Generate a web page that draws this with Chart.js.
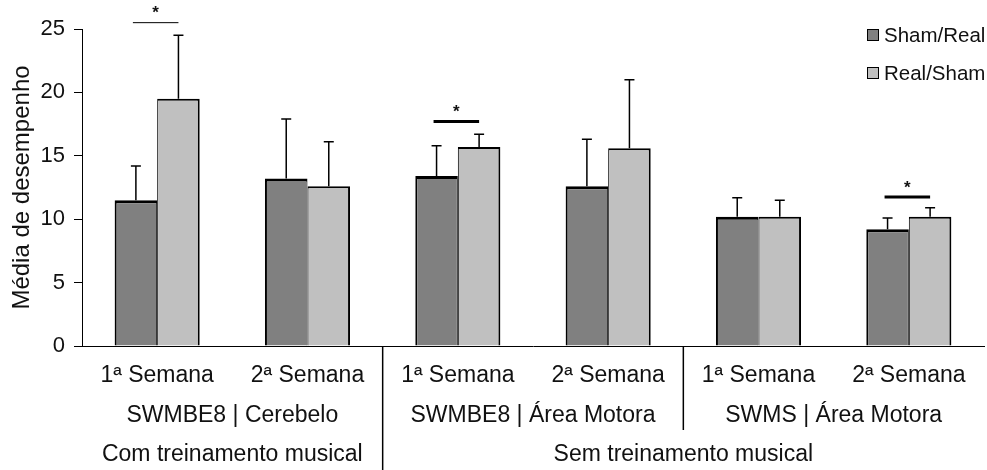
<!DOCTYPE html>
<html>
<head>
<meta charset="utf-8">
<script src="https://cdn.jsdelivr.net/npm/chart.js@4.4.1/dist/chart.umd.min.js"></script>
<style>
  html, body { margin: 0; padding: 0; background: #ffffff; }
  #wrap { width: 987px; height: 470px; position: relative; }
</style>
</head>
<body>
<div id="wrap"><canvas id="chart"></canvas></div>
<script>
// Categories (first row of the x axis) and the two grouping rows below it
const weeks = ['1ª Semana', '2ª Semana', '1ª Semana', '2ª Semana', '1ª Semana', '2ª Semana'];
const conditions = ['SWMBE8 | Cerebelo', 'SWMBE8 | Área Motora', 'SWMS | Área Motora'];
const conditionSpan = [2, 2, 2];
const trainingGroups = ['Com treinamento musical', 'Sem treinamento musical'];
const trainingSpan = [2, 4];

// Series: means and standard deviations
const seriesNames = ['Sham/Real', 'Real/Sham'];
const shamRealMean = [11.5, 13.2, 13.4, 12.6, 10.2, 9.2];
const shamRealSD   = [2.7, 4.7, 2.4, 3.7, 1.5, 0.9];
const realShamMean = [19.5, 12.6, 15.7, 15.6, 10.2, 10.2];
const realShamSD   = [5.0, 3.5, 1.0, 5.4, 1.3, 0.7];

// Y axis ticks
const yTicks = [0, 5, 10, 15, 20, 25];

// Significant differences: category index and height of the bracket line
const sigCategory = [0, 2, 5];
const sigLevel = [25.5, 17.7, 11.75];
const sigLineWidth = [1, 3, 3];

const FONT = '"Liberation Sans", Arial, Helvetica, sans-serif';
const TEXT = '#111111';
const DARK = '#808080';
const LIGHT = '#c0c0c0';

const sd = [shamRealSD, realShamSD];

const extrasPlugin = {
  id: 'extras',
  afterDatasetsDraw(chart) {
    const ctx = chart.ctx;
    const y = chart.scales.y;
    // error bars (upward only)
    ctx.save();
    ctx.strokeStyle = '#000';
    ctx.lineWidth = 1.5;
    chart.data.datasets.forEach((ds, di) => {
      const meta = chart.getDatasetMeta(di);
      meta.data.forEach((bar, i) => {
        const top = y.getPixelForValue(ds.data[i]);
        const tip = y.getPixelForValue(ds.data[i] + sd[di][i]);
        ctx.beginPath();
        ctx.moveTo(bar.x, top);
        ctx.lineTo(bar.x, tip);
        ctx.moveTo(bar.x - 5, tip);
        ctx.lineTo(bar.x + 5, tip);
        ctx.stroke();
      });
    });
    ctx.restore();
  },
  afterDraw(chart) {
    const ctx = chart.ctx;
    const x = chart.scales.x;
    const y = chart.scales.y;
    const area = chart.chartArea;
    const m0 = chart.getDatasetMeta(0);
    const m1 = chart.getDatasetMeta(1);
    ctx.save();

    // significance brackets with asterisks
    sigCategory.forEach((c, k) => {
      const yy = y.getPixelForValue(sigLevel[k]);
      const x0 = m0.data[c].x - 3;
      const x1 = m1.data[c].x;
      ctx.strokeStyle = '#000';
      ctx.lineWidth = sigLineWidth[k];
      ctx.beginPath();
      ctx.moveTo(x0, yy);
      ctx.lineTo(x1, yy);
      ctx.stroke();
      ctx.fillStyle = TEXT;
      ctx.font = 'bold 17px ' + FONT;
      ctx.textAlign = 'center';
      ctx.textBaseline = 'middle';
      ctx.fillText('*', (x0 + x1) / 2, yy - 9);
    });

    // boundaries between category indices
    const edge = (idx) => {
      if (idx <= 0) return area.left;
      if (idx >= weeks.length) return area.right;
      return (x.getPixelForValue(idx - 1) + x.getPixelForValue(idx)) / 2;
    };

    ctx.fillStyle = TEXT;
    ctx.textAlign = 'center';
    ctx.textBaseline = 'middle';

    // second row: conditions
    ctx.font = '23px ' + FONT;
    let start = 0;
    conditions.forEach((label, k) => {
      const a = edge(start), b = edge(start + conditionSpan[k]);
      ctx.fillText(label, (a + b) / 2, 416);
      start += conditionSpan[k];
    });

    // third row: training groups
    start = 0;
    trainingGroups.forEach((label, k) => {
      const a = edge(start), b = edge(start + trainingSpan[k]);
      ctx.fillText(label, (a + b) / 2, 455);
      start += trainingSpan[k];
    });

    // vertical separators
    ctx.strokeStyle = '#000';
    ctx.lineWidth = 1.5;
    const trainingEdge = edge(trainingSpan[0]);
    ctx.beginPath();
    ctx.moveTo(trainingEdge, area.bottom);
    ctx.lineTo(trainingEdge, chart.height);
    ctx.stroke();
    start = 0;
    conditionSpan.forEach((span, k) => {
      start += span;
      if (start >= weeks.length) return;
      const e = edge(start);
      if (Math.abs(e - trainingEdge) < 1) return;
      ctx.beginPath();
      ctx.moveTo(e, area.bottom);
      ctx.lineTo(e, 430);
      ctx.stroke();
    });

    // legend
    ctx.font = '20.5px ' + FONT;
    ctx.textAlign = 'left';
    const legendY = [35, 73];
    chart.data.datasets.forEach((ds, di) => {
      const cy = legendY[di];
      ctx.fillStyle = ds.backgroundColor;
      ctx.fillRect(867, cy - 6, 12, 12);
      ctx.strokeStyle = '#000';
      ctx.lineWidth = 1;
      ctx.strokeRect(867.5, cy - 5.5, 11, 11);
      ctx.fillStyle = TEXT;
      ctx.fillText(ds.label, 884, cy + 1);
    });
    ctx.restore();
  }
};

new Chart(document.getElementById('chart'), {
  type: 'bar',
  data: {
    labels: weeks,
    datasets: [
      {
        label: seriesNames[0],
        data: shamRealMean,
        backgroundColor: DARK,
        borderColor: '#000',
        borderWidth: { top: 3, left: 2, right: 1, bottom: 0 },
        borderSkipped: 'start'
      },
      {
        label: seriesNames[1],
        data: realShamMean,
        backgroundColor: LIGHT,
        borderColor: '#000',
        borderWidth: { top: 2, left: 1, right: 2, bottom: 0 },
        borderSkipped: 'start'
      }
    ]
  },
  options: {
    responsive: true,
    maintainAspectRatio: false,
    animation: false,
    layout: { padding: { top: 29, right: 3, left: 0, bottom: 0 } },
    datasets: { bar: { categoryPercentage: 0.566, barPercentage: 1.0 } },
    plugins: {
      legend: { display: false },
      tooltip: { enabled: false }
    },
    scales: {
      x: {
        grid: { display: false, drawTicks: false },
        border: { display: true, color: '#000', width: 1 },
        ticks: {
          color: TEXT,
          font: { family: FONT, size: 23 },
          padding: 16,
          maxRotation: 0,
          autoSkip: false
        },
        afterFit(scale) { scale.height = 124; }
      },
      y: {
        min: 0,
        max: 25,
        afterBuildTicks(scale) { scale.ticks = yTicks.map(v => ({ value: v })); },
        grid: {
          drawOnChartArea: false,
          drawTicks: true,
          tickLength: 8,
          tickColor: '#000',
          tickWidth: 1
        },
        border: { display: true, color: '#000', width: 1 },
        ticks: {
          color: TEXT,
          font: { family: FONT, size: 22 },
          padding: 9
        },
        title: {
          display: true,
          text: 'Média de desempenho',
          color: TEXT,
          font: { family: FONT, size: 24 },
          padding: { top: 8, bottom: 0 }
        },
        afterFit(scale) { scale.width = 82; }
      }
    }
  },
  plugins: [extrasPlugin]
});
</script>
</body>
</html>
